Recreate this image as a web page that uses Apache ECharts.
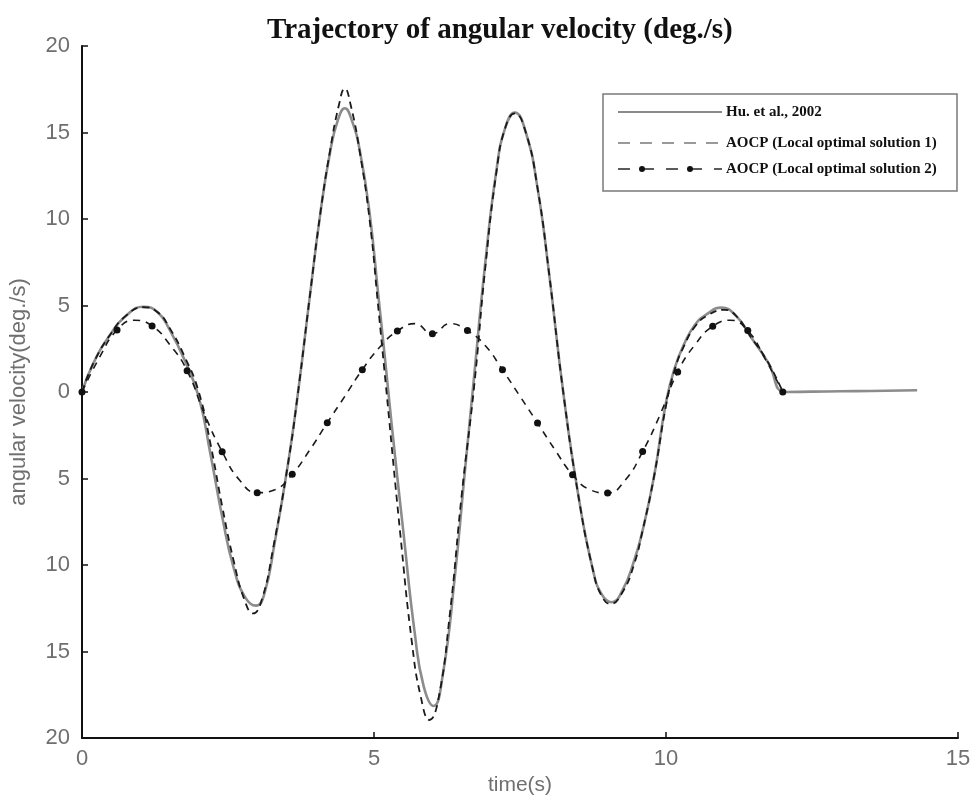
<!DOCTYPE html>
<html>
<head>
<meta charset="utf-8">
<script src="https://cdn.jsdelivr.net/npm/echarts@6/dist/echarts.min.js"></script>
<style>
  html, body { margin: 0; padding: 0; background: #fff; }
  #main { width: 976px; height: 802px; }
</style>
</head>
<body>
<div id="main"></div>
<script>
// axis ranges
var xRange = [0, 15, 5];
var yRange = [-20, 20, 5];

// Hu et al., 2002  [time, deg/s]
var huData = [
  [0, 0], [0.2, 1.7], [0.5, 3.4], [0.75, 4.4], [1.05, 4.93], [1.3, 4.6], [1.5, 3.6],
  [1.75, 1.9], [2.0, -0.3], [2.2, -3.6], [2.4, -7.2], [2.6, -10.2], [2.8, -11.9],
  [2.98, -12.35], [3.12, -11.7], [3.3, -8.7], [3.53, -4.1], [3.7, 0], [3.9, 5.5],
  [4.08, 10.3], [4.25, 13.9], [4.38, 15.7], [4.5, 16.4], [4.62, 15.7], [4.76, 13.9],
  [4.93, 10.2], [5.07, 5.7], [5.18, 2.2], [5.3, -1.8], [5.5, -8.0], [5.7, -14.0],
  [5.85, -17.0], [6.02, -18.15], [6.18, -16.3], [6.38, -10.8], [6.55, -4.8], [6.7, 0.4],
  [6.9, 7.3], [7.1, 12.9], [7.25, 15.3], [7.41, 16.15], [7.6, 15.0], [7.8, 11.8],
  [8.0, 6.8], [8.24, 0], [8.5, -6.0], [8.75, -10.3], [8.9, -11.7], [9.07, -12.15],
  [9.25, -11.5], [9.45, -9.8], [9.6, -8.0], [9.8, -4.8], [10.0, -0.6], [10.15, 1.4],
  [10.3, 2.7], [10.5, 3.9], [10.7, 4.5], [10.95, 4.88], [11.2, 4.4], [11.45, 3.2],
  [11.75, 1.7], [12.04, 0], [12.5, 0.02], [13.0, 0.04], [13.5, 0.06], [14.3, 0.1]
];

// AOCP (Local optimal solution 1)
var sol1Data = [
  [0, 0], [0.2, 1.7], [0.5, 3.4], [0.75, 4.4], [1.05, 4.9], [1.3, 4.6], [1.5, 3.7],
  [1.75, 2.1], [2.0, 0], [2.2, -3.0], [2.4, -6.6], [2.6, -9.8], [2.78, -12.0],
  [2.93, -12.8], [3.08, -12.0], [3.28, -8.9], [3.53, -4.1], [3.7, 0], [3.9, 5.5],
  [4.08, 10.3], [4.25, 14.0], [4.4, 16.6], [4.5, 17.55], [4.6, 16.6], [4.76, 13.8],
  [4.93, 9.8], [5.07, 5.0], [5.2, 0.5], [5.45, -8.2], [5.65, -14.5], [5.8, -17.6],
  [5.95, -18.96], [6.1, -17.8], [6.3, -12.8], [6.5, -6.0], [6.72, 0.5], [6.9, 7.0],
  [7.1, 12.8], [7.25, 15.3], [7.41, 16.1], [7.6, 15.0], [7.8, 11.8], [8.0, 6.8],
  [8.24, 0], [8.5, -6.0], [8.75, -10.3], [8.9, -11.8], [9.05, -12.25], [9.25, -11.6],
  [9.45, -10.0], [9.6, -8.0], [9.8, -4.8], [10.0, -0.8], [10.15, 1.3], [10.3, 2.6],
  [10.5, 3.8], [10.7, 4.4], [11.0, 4.75], [11.2, 4.4], [11.45, 3.2], [11.75, 1.7], [12.0, 0]
];

// AOCP (Local optimal solution 2): marked samples and the curve between them
var sol2Dots = [
  [0, 0], [0.6, 3.58], [1.2, 3.82], [1.8, 1.23], [2.4, -3.45], [3.0, -5.82], [3.6, -4.75],
  [4.2, -1.78], [4.8, 1.29], [5.4, 3.52], [6.0, 3.36], [6.6, 3.55], [7.2, 1.28],
  [7.8, -1.79], [8.4, -4.78], [9.0, -5.84], [9.6, -3.44], [10.2, 1.16], [10.8, 3.8],
  [11.4, 3.55], [12.0, 0]
];
var sol2Between = [
  [0.3, 2.0], [0.9, 4.15], [1.5, 2.75], [2.1, -1.3], [2.7, -5.1], [3.3, -5.65],
  [3.9, -3.35], [4.5, -0.25], [5.1, 2.6], [5.7, 3.95], [6.3, 3.95], [6.9, 2.7],
  [7.5, -0.25], [8.1, -3.35], [8.7, -5.65], [9.3, -5.1], [9.9, -1.3], [10.5, 2.75],
  [11.1, 4.15], [11.7, 1.9]
];

var sol2Data = [];
for (var i = 0; i < sol2Dots.length; i++) {
  sol2Data.push({ value: sol2Dots[i] });
  if (i < sol2Between.length) {
    sol2Data.push({ value: sol2Between[i], symbol: 'none' });
  }
}

var legendNames = ['Hu. et al., 2002', 'AOCP (Local optimal solution 1)', 'AOCP (Local optimal solution 2)'];

var myChart = echarts.init(document.getElementById('main'));

var axisLabelStyle = {
  color: '#6f6f6f',
  fontSize: 22,
  fontFamily: 'Liberation Sans, Arial, sans-serif'
};
var nameStyle = { color: '#6f6f6f', fontSize: 21, fontFamily: 'Liberation Sans, Arial, sans-serif' };
var legendFont = 'bold 15px "Liberation Serif", "Times New Roman", serif';

option = {
  backgroundColor: '#fff',
  animation: false,
  title: {
    text: 'Trajectory of angular velocity (deg./s)',
    left: 262,
    top: 11,
    textStyle: {
      fontFamily: 'Liberation Serif, Times New Roman, serif',
      fontWeight: 'bold',
      fontSize: 29,
      color: '#111'
    }
  },
  grid: {
    left: 82,
    right: 18,
    top: 46,
    bottom: 64,
    outerBoundsMode: 'none'
  },
  xAxis: {
    type: 'value',
    min: xRange[0],
    max: xRange[1],
    interval: xRange[2],
    name: 'time(s)',
    nameLocation: 'middle',
    nameGap: 29,
    nameTextStyle: nameStyle,
    axisLine: { show: true, onZero: false, lineStyle: { color: '#111', width: 2 } },
    axisTick: { show: true, inside: true, length: 6, lineStyle: { color: '#111', width: 1.5 } },
    axisLabel: Object.assign({ margin: 10 }, axisLabelStyle),
    splitLine: { show: false }
  },
  yAxis: {
    type: 'value',
    min: yRange[0],
    max: yRange[1],
    interval: yRange[2],
    name: 'angular velocity(deg./s)',
    nameLocation: 'middle',
    nameGap: 52,
    nameTextStyle: Object.assign({}, nameStyle, { fontSize: 22 }),
    axisLine: { show: true, onZero: false, lineStyle: { color: '#111', width: 2 } },
    axisTick: { show: true, inside: true, length: 6, lineStyle: { color: '#111', width: 1.5 } },
    axisLabel: Object.assign({
      margin: 12,
      formatter: function (v) { return String(Math.abs(v)); }
    }, axisLabelStyle),
    splitLine: { show: false }
  },
  series: [
    {
      name: legendNames[0],
      type: 'line',
      data: huData,
      smooth: true,
      symbol: 'none',
      z: 2,
      lineStyle: { color: '#8c8c8c', width: 2.6 }
    },
    {
      name: legendNames[1],
      type: 'line',
      data: sol1Data,
      smooth: true,
      symbol: 'none',
      z: 3,
      lineStyle: { color: '#1a1a1a', width: 1.8, type: [7, 5] }
    },
    {
      name: legendNames[2],
      type: 'line',
      data: sol2Data,
      smooth: true,
      showSymbol: true,
      symbol: 'circle',
      symbolSize: 7,
      z: 4,
      itemStyle: { color: '#111' },
      lineStyle: { color: '#1a1a1a', width: 1.6, type: [7, 6] }
    }
  ],
  graphic: [
    {
      type: 'group',
      z: 100,
      children: [
        { type: 'rect', shape: { x: 603, y: 94, width: 354, height: 97 },
          style: { fill: '#fff', stroke: '#7a7a7a', lineWidth: 1.5 } },
        { type: 'line', shape: { x1: 618, y1: 112, x2: 722, y2: 112 },
          style: { stroke: '#8a8a8a', lineWidth: 2 } },
        { type: 'text', x: 726, y: 112,
          style: { text: legendNames[0], font: legendFont, fill: '#111', verticalAlign: 'middle' } },
        { type: 'line', shape: { x1: 618, y1: 143, x2: 722, y2: 143 },
          style: { stroke: '#7a7a7a', lineWidth: 1.6, lineDash: [12, 10] } },
        { type: 'text', x: 726, y: 143,
          style: { text: legendNames[1], font: legendFont, fill: '#111', verticalAlign: 'middle' } },
        { type: 'line', shape: { x1: 618, y1: 169, x2: 722, y2: 169 },
          style: { stroke: '#333', lineWidth: 1.6, lineDash: [12, 12] } },
        { type: 'circle', shape: { cx: 642, cy: 169, r: 3 }, style: { fill: '#111' } },
        { type: 'circle', shape: { cx: 690, cy: 169, r: 3 }, style: { fill: '#111' } },
        { type: 'text', x: 726, y: 169,
          style: { text: legendNames[2], font: legendFont, fill: '#111', verticalAlign: 'middle' } }
      ]
    }
  ]
};

if (option && typeof option === 'object') {
  myChart.setOption(option, true);
}
</script>
</body>
</html>
